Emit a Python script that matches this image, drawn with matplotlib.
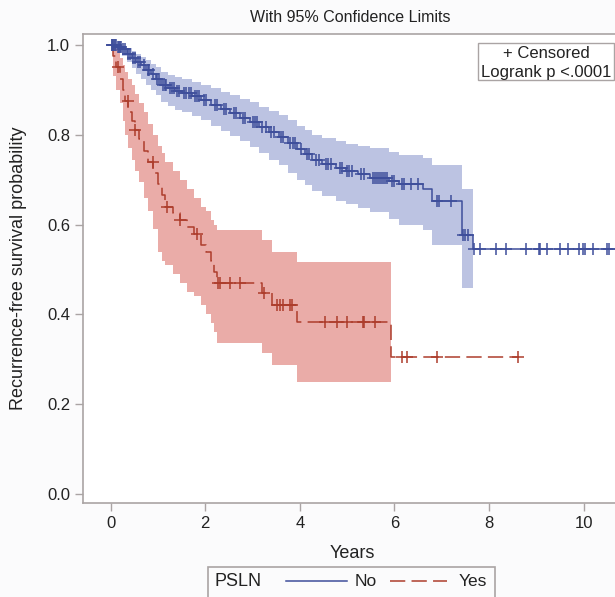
import numpy as np
import matplotlib
matplotlib.use("Agg")
import matplotlib.pyplot as plt
from matplotlib.patches import Rectangle
from matplotlib.lines import Line2D

plt.rcParams["font.family"] = ["Liberation Sans", "DejaVu Sans"]
plt.rcParams["lines.scale_dashes"] = False

# PSLN = No : step times, survival, 95% limits
no_t = [0, 0.14, 0.24, 0.34, 0.445, 0.545, 0.65, 0.75, 0.85, 0.95, 1.055, 1.21, 1.36, 1.51,
        1.72, 1.92, 2.12, 2.33, 2.53, 2.73, 2.94, 3.14, 3.34, 3.55, 3.75, 3.95, 4.11, 4.26,
        4.46, 4.77, 4.97, 5.22, 5.48, 5.89, 6.09, 6.6, 6.8, 7.42, 7.67]
no_s = [1.0, 0.995, 0.99, 0.98, 0.97, 0.962, 0.955, 0.945, 0.935, 0.925, 0.912, 0.905, 0.898,
        0.893, 0.886, 0.878, 0.866, 0.857, 0.848, 0.838, 0.828, 0.818, 0.806, 0.795, 0.781,
        0.768, 0.757, 0.745, 0.735, 0.726, 0.72, 0.712, 0.704, 0.697, 0.691, 0.68, 0.653,
        0.576, 0.545]
no_lo = [1.0, 0.985, 0.975, 0.962, 0.948, 0.936, 0.925, 0.912, 0.90, 0.888, 0.873, 0.864,
         0.856, 0.85, 0.842, 0.832, 0.82, 0.808, 0.797, 0.786, 0.773, 0.76, 0.745, 0.732,
         0.716, 0.70, 0.688, 0.675, 0.664, 0.652, 0.645, 0.636, 0.627, 0.612, 0.60, 0.587,
         0.554, 0.458]
no_hi = [1.0, 1.0, 0.998, 0.993, 0.986, 0.98, 0.974, 0.966, 0.958, 0.95, 0.94, 0.934, 0.928,
         0.924, 0.918, 0.912, 0.904, 0.896, 0.888, 0.88, 0.872, 0.862, 0.853, 0.843, 0.832,
         0.82, 0.81, 0.80, 0.792, 0.786, 0.78, 0.775, 0.77, 0.762, 0.755, 0.749, 0.733, 0.68]
no_end = 10.8
no_cens = [0.02, 0.04, 0.06, 0.08, 0.1, 0.12, 0.15, 0.17, 0.2, 0.22, 0.27, 0.3, 0.36, 0.4,
           0.48, 0.52, 0.58, 0.62, 0.7, 0.78, 0.82, 0.9, 0.98, 1.02, 1.1, 1.15, 1.18, 1.25,
           1.3, 1.33, 1.4, 1.45, 1.55, 1.6, 1.65, 1.7, 1.78, 1.82, 1.87, 1.97, 2.02, 2.2,
           2.25, 2.4, 2.45, 2.6, 2.65, 2.8, 2.85, 3.0, 3.05, 3.1, 3.2, 3.28, 3.4, 3.45, 3.6,
           3.65, 3.8, 3.85, 3.9, 4.02, 4.15, 4.2, 4.35, 4.4, 4.55, 4.6, 4.65, 4.85, 4.9, 5.0,
           5.05, 5.1, 5.3, 5.35, 5.55, 5.6, 5.63, 5.68, 5.72, 5.75, 5.8, 5.85, 5.95, 6.0,
           6.15, 6.2, 6.35, 6.5, 6.9, 6.95, 7.2, 7.45, 7.5, 7.55, 7.69, 7.8, 8.14, 8.36,
           8.79, 9.05, 9.07, 9.23, 9.51, 9.68, 9.91, 9.98, 10.03, 10.19, 10.49, 10.54]

# PSLN = Yes
yes_t = [0, 0.058, 0.109, 0.19, 0.262, 0.312, 0.373, 0.445, 0.516, 0.597, 0.699, 0.8, 0.902,
         1.004, 1.085, 1.157, 1.31, 1.462, 1.614, 1.767, 1.919, 2.021, 2.123, 2.194, 2.245,
         3.2, 3.414, 3.943, 5.92]
yes_s = [1.0, 0.975, 0.95, 0.925, 0.9, 0.875, 0.85, 0.83, 0.81, 0.79, 0.765, 0.74, 0.715,
         0.69, 0.665, 0.64, 0.625, 0.61, 0.595, 0.58, 0.555, 0.54, 0.52, 0.495, 0.47, 0.447,
         0.421, 0.383, 0.306]
yes_lo = [1.0, 0.93, 0.90, 0.87, 0.83, 0.80, 0.77, 0.745, 0.72, 0.695, 0.66, 0.63, 0.59,
          0.54, 0.52, 0.51, 0.49, 0.47, 0.45, 0.44, 0.42, 0.40, 0.38, 0.36, 0.337, 0.314,
          0.288, 0.25]
yes_hi = [1.0, 0.997, 0.99, 0.97, 0.955, 0.94, 0.925, 0.91, 0.89, 0.87, 0.85, 0.825, 0.80,
          0.775, 0.76, 0.74, 0.72, 0.70, 0.68, 0.66, 0.64, 0.63, 0.61, 0.60, 0.587, 0.565,
          0.54, 0.516]
yes_end = 8.62
yes_cens = [0.16, 0.37, 0.52, 0.9, 1.19, 1.47, 1.82, 2.27, 2.32, 2.53, 2.73, 3.24, 3.52,
            3.58, 3.65, 3.79, 3.83, 4.53, 4.79, 5.0, 5.34, 5.36, 5.59, 6.15, 6.27, 6.9, 8.62]

blue, blue_band = "#3e4e9b", "#bcc3e2"
red, red_band = "#ad3d2c", "#eaaca8"
grey = "#aaa4a4"
ink = "#222222"

W, H = 615, 597
fig = plt.figure(figsize=(W / 100, H / 100), dpi=100, facecolor="#fbfbfc")


def fx(x):
    return x / W


def fy(y):
    return 1 - y / H


ax = fig.add_axes([fx(82.7), fy(503), (618 - 82.7) / W, (503 - 34) / H])
ax.set_xlim(-0.59, 10.727)
ax.set_ylim(-0.02, 1.0245)


def draw_group(t, s, lo, hi, end, cens, color, band, dashed):
    t = np.array(t)
    s = np.array(s)
    # band stops at the last step time
    bt = t[:len(lo) + 1]
    ax.fill_between(bt, np.append(lo, lo[-1]), np.append(hi, hi[-1]), step="post",
                    color=band, lw=0, zorder=1)
    line, = ax.plot(np.append(t, end), np.append(s, s[-1]), drawstyle="steps-post",
                    color=color, lw=1.1, zorder=3)
    if dashed:
        line.set_dashes((11, 4.5))
    c = np.array(cens)
    cs = s[np.searchsorted(t, c, side="right") - 1]
    ax.plot(c, cs, ls="none", marker="+", ms=8, mew=1.1, color=color, zorder=4)


draw_group(no_t, no_s, no_lo, no_hi, no_end, no_cens, blue, blue_band, False)
draw_group(yes_t, yes_s, yes_lo, yes_hi, yes_end, yes_cens, red, red_band, True)

ax.set_xticks(range(0, 11, 2))
yt = np.arange(0, 1.01, 0.2)
ax.set_yticks(yt)
ax.set_yticklabels(["%.1f" % v for v in yt])
ax.tick_params(direction="out", length=6, width=1, color=grey, labelsize=12, pad=3,
               labelcolor=ink)
for sp in ax.spines.values():
    sp.set_color(grey)
    sp.set_linewidth(1.2)

ax.set_xlabel("Years", fontsize=13, color=ink)
ax.xaxis.set_label_coords((352 - 82.7) / 535.3, (503 - 545) / 469)
ax.set_ylabel("Recurrence-free survival probability", fontsize=13, color=ink)
ax.yaxis.set_label_coords((27 - 82.7) / 535.3, 0.5)

fig.text(fx(350.5), fy(17), "With 95% Confidence Limits", fontsize=11.5, ha="center",
         va="center", color=ink)

# censored / logrank box
fig.patches.append(Rectangle((fx(477.7), fy(80)), fx(614) - fx(477.7), fy(43) - fy(80),
                             transform=fig.transFigure, fill=False, ec=grey, lw=1))
fig.text(fx(546), fy(53), "+ Censored", fontsize=12, ha="center", va="center", color=ink)
fig.text(fx(546), fy(72), "Logrank p <.0001", fontsize=12, ha="center", va="center",
         color=ink)

# legend
fig.patches.append(Rectangle((fx(208), fy(600)), fx(495) - fx(208), fy(567) - fy(600),
                             transform=fig.transFigure, fill=False, ec=grey, lw=1.2))
ly = fy(581)
fig.text(fx(214), ly, "PSLN", fontsize=13, ha="left", va="center", color=ink)
fig.lines.append(Line2D([fx(286), fx(347)], [ly, ly], transform=fig.transFigure,
                        color=blue, lw=1.1))
fig.text(fx(355), ly, "No", fontsize=12.5, ha="left", va="center", color=ink)
leg_red = Line2D([fx(390), fx(447)], [ly, ly], transform=fig.transFigure, color=red, lw=1.1)
leg_red.set_dashes((11, 4.5))
fig.lines.append(leg_red)
fig.text(fx(459), ly, "Yes", fontsize=12.5, ha="left", va="center", color=ink)

fig.savefig("out.png", dpi=100, facecolor=fig.get_facecolor())
